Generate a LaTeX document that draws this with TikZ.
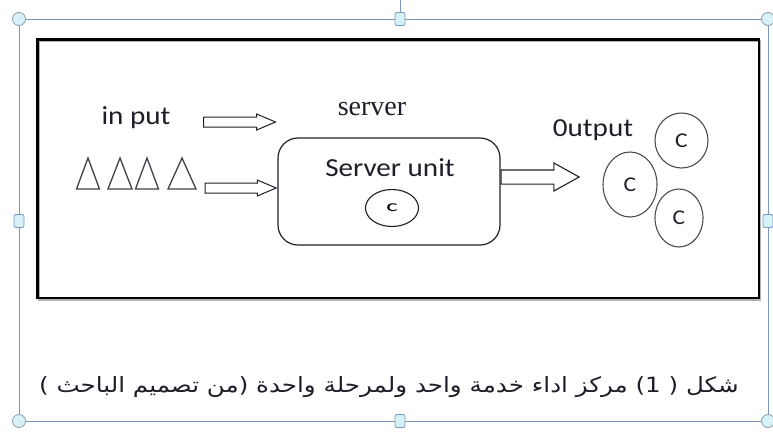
\documentclass[tikz,border=0pt]{standalone}
\usepackage{fontspec}
\usetikzlibrary{shapes.geometric,shapes.arrows}
\setmainfont{Liberation Serif}
\newfontfamily\calfont[FakeStretch=1.12]{Carlito}
\newfontfamily\arabicfont[Script=Arabic,FakeStretch=1.17]{DejaVu Sans}
\TeXXeTstate=1
\definecolor{selblue}{RGB}{121,151,192}
\definecolor{handlefill}{RGB}{214,242,246}
\definecolor{handledraw}{RGB}{140,155,170}
\definecolor{inkc}{RGB}{30,30,40}
\tikzset{
  handlecirc/.style={circle, draw=handledraw, fill=handlefill, line width=0.8pt, minimum size=13pt, inner sep=0pt},
  handlesq/.style={rectangle, rounded corners=2pt, draw=selblue, fill=handlefill, line width=0.8pt, minimum width=10pt, minimum height=13pt, inner sep=0pt},
  caltext/.style={font=\calfont\fontsize{26}{28}\selectfont, text=inkc, inner sep=0pt},
  inarrow/.style={single arrow, draw=inkc, line width=1pt, inner xsep=0pt, inner ysep=4.5pt, single arrow head extend=3pt, single arrow tip angle=46},
  bigarrow/.style={single arrow, draw=inkc, line width=1.1pt, inner xsep=0pt, inner ysep=6.5pt, single arrow head extend=7pt, single arrow tip angle=58},
  custcirc/.style={ellipse, draw=inkc!80, line width=1.1pt, inner sep=0pt, font=\calfont\fontsize{21}{23}\selectfont, text=inkc},
  tri/.style={draw=inkc!85, line width=1.3pt, line join=miter}
}
\begin{document}
\begin{tikzpicture}[x=1pt,y=-1pt]
\useasboundingbox (0,0) rectangle (773,432);
% selection frame
\draw[selblue, line width=1pt] (19,19) rectangle (768,421);
\draw[selblue, line width=1pt] (400,0) -- (400,13);
\node[handlecirc] (h1) at (19,19) {};
\node[handlecirc] (h2) at (768,19) {};
\node[handlecirc] (h3) at (19,421) {};
\node[handlecirc] (h4) at (768,421) {};
\node[handlesq] (s1) at (400,19) {};
\node[handlesq] (s2) at (400,421) {};
\node[handlesq] (s3) at (19,221) {};
\node[handlesq] (s4) at (768,221) {};
% inner frame
\draw[black!30, line width=2pt] (38.5,40.5) rectangle (760,299.5);
\draw[black, line width=2.2pt] (37.5,39.5) rectangle (759,298);
% texts
\node[caltext] (inp) at (136,118) {in put};
\node[font=\fontsize{28}{30}\selectfont, text=inkc, inner sep=0pt] (srv) at (372,109) {server};
\node[caltext] (outp) at (593,130) {0utput};
% server box
\node[draw=inkc, line width=1.2pt, rounded corners=20pt, minimum width=222pt, minimum height=107pt, inner sep=0pt] (unit) at (389,191.5) {};
\node[caltext] (unitt) at (390,168) {Server unit};
\node[ellipse, draw=inkc, line width=1.1pt, minimum width=53pt, minimum height=37pt, inner sep=0pt] (cell) at (392,208) {\calfont\fontsize{16}{18}\selectfont\scalebox{1.5}[1]{c}};
% triangles
\foreach \cx/\w in {88/23,120/24,147/23,182/28}{
  \draw[tri] (\cx-\w/2,189) -- (\cx,158) -- (\cx+\w/2,189) -- cycle;
}
% arrows
\node[inarrow, minimum height=72pt, anchor=tail] (a1) at (203,122) {};
\node[inarrow, minimum height=71pt, anchor=tip] (a2) at (unit.west |- 0,188) {};
\node[bigarrow, minimum height=78pt, anchor=tail] (a3) at (unit.east |- 0,177) {};
% output customers
\node[custcirc, minimum width=53pt, minimum height=55pt] (c1) at (681.5,140.5) {C};
\node[custcirc, minimum width=54pt, minimum height=65pt] (c2) at (630,184.5) {C};
\node[custcirc, minimum width=48pt, minimum height=58pt] (c3) at (679,218) {C};
% caption
\node[inner sep=0pt, text=inkc] (cap) at (389,387) {\arabicfont\fontsize{21}{24}\selectfont\beginR شكل ( 1) مركز اداء خدمة واحد  ولمرحلة واحدة (من تصميم الباحث )\endR};
\end{tikzpicture}
\end{document}
